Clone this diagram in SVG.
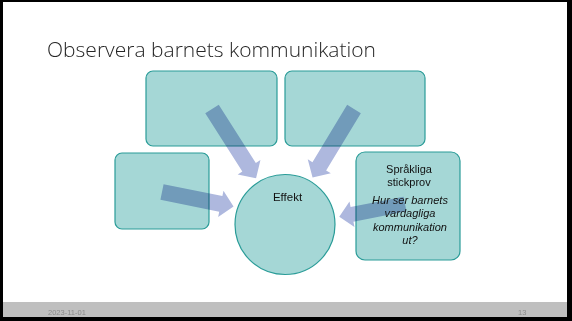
<svg xmlns="http://www.w3.org/2000/svg" width="572" height="321" viewBox="0 0 572 321">
<defs>
<style>
.box{fill:#A5D7D6;stroke:#2A9C98;stroke-width:1.2}
.arrow{fill:#AEB8DE;mix-blend-mode:multiply}
.t{font-family:"Liberation Sans",Arial,sans-serif;font-size:11px;fill:#111;text-anchor:middle}
.ti{font-style:italic}
.foot{font-family:"Liberation Sans",Arial,sans-serif;font-size:7.5px;fill:#8A8A8A}
</style>
</defs>
<rect x="0" y="0" width="572" height="321" fill="#000"/>
<rect x="3" y="2" width="564" height="315" fill="#fff"/>
<rect x="3" y="302" width="564" height="15" fill="#BFBFBF"/>
<text class="foot" x="48" y="315">2023-11-01</text>
<text class="foot" x="518" y="315">13</text>
<text x="47" y="57" font-family="'Open Sans','Liberation Sans',Arial,sans-serif" font-weight="300" font-size="21" fill="#262626" textLength="329" lengthAdjust="spacingAndGlyphs">Observera barnets kommunikation</text>

<g id="node-top-left"><rect class="box" x="146" y="71" width="131" height="75" rx="7"/></g>
<g id="node-top-right"><rect class="box" x="285" y="71" width="140" height="75" rx="7"/></g>
<g id="node-left"><rect class="box" x="115" y="153" width="94" height="76" rx="7"/></g>
<g id="node-effekt"><circle class="box" cx="285" cy="224.5" r="50"/></g>
<g id="node-sprakliga"><rect class="box" x="356" y="152" width="104" height="108" rx="9"/></g>

<g id="connectors">
<polygon class="arrow" transform="translate(212,109) rotate(57.5)" points="0,-8 69,-8 69,-13.5 82,0 69,13.5 69,8 0,8"/>
<polygon class="arrow" transform="translate(354,109) rotate(121.2)" points="0,-8 67,-8 67,-13.5 80,0 67,13.5 67,8 0,8"/>
<polygon class="arrow" transform="translate(162,192) rotate(11.4)" points="0,-8 60,-8 60,-13.5 73,0 60,13.5 60,8 0,8"/>
<polygon class="arrow" transform="translate(405,204) rotate(169)" points="0,-7.5 54,-7.5 54,-13 67,0 54,13 54,7.5 0,7.5"/>
</g>

<g id="label-effekt"><text class="t" x="287.5" y="200.5" style="font-size:11.5px">Effekt</text></g>
<g id="label-sprakliga">
<text class="t" x="409" y="172.5">Språkliga</text>
<text class="t" x="409" y="185.5">stickprov</text>
<text class="t ti" x="410" y="204.3">Hur ser barnets</text>
<text class="t ti" x="410" y="217">vardagliga</text>
<text class="t ti" x="410" y="230.5">kommunikation</text>
<text class="t ti" x="410" y="243.5">ut?</text>
</g>
</svg>
